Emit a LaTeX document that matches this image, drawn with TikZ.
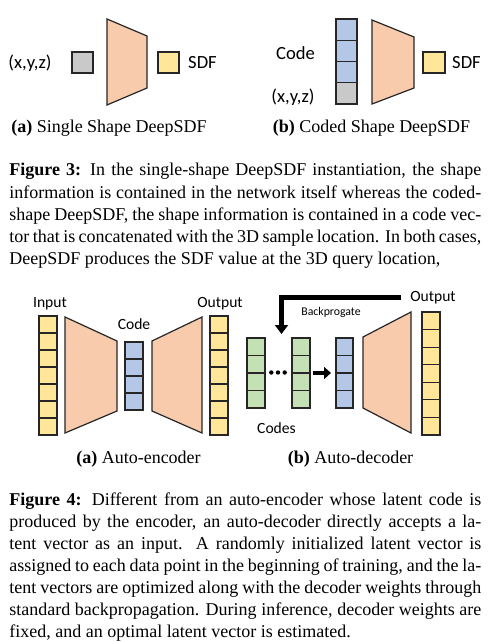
\documentclass[tikz,border=0pt]{standalone}
\usepackage{fontspec}
\setmainfont{Liberation Serif}
\newfontfamily\labfont{Carlito}
\usetikzlibrary{arrows.meta,calc}
\definecolor{peach}{HTML}{F8CBAD}
\definecolor{yel}{HTML}{FFE699}
\definecolor{blu}{HTML}{B4C7E7}
\definecolor{grn}{HTML}{C5E0B4}
\definecolor{gry}{HTML}{C9C9C9}
\definecolor{edge}{HTML}{262626}
\tikzset{
  cellline/.style={draw=edge, line width=0.6pt},
  colnode/.style={cellline, inner sep=0pt, outer sep=0pt},
  trap/.style={cellline, fill=peach, line join=miter},
  labbig/.style={inner sep=0pt, font=\labfont\fontsize{9.3}{11}\selectfont},
  labmid/.style={inner sep=0pt, font=\labfont\fontsize{7.8}{9}\selectfont},
  labsmall/.style={inner sep=0pt, font=\labfont\fontsize{5.9}{7}\selectfont},
  subcap/.style={inner sep=0pt, font=\fontsize{9}{11}\selectfont},
  figcap/.style={inner sep=0pt, anchor=base west, text width=236pt, align=justify, font=\fontsize{9}{11}\selectfont},
  bigarrow/.style={draw=black, line width=2.5pt, -{Triangle[width=6.5pt,length=4.5pt]}},
  smallarrow/.style={draw=black, line width=2pt, -{Triangle[width=6pt,length=3.5pt]}}
}
\newcommand\splitcol[2]{%
  \pgfmathtruncatemacro\mynn{#2-1}%
  \foreach \k in {1,...,\mynn}{%
    \draw[cellline] ($(#1.north west)!\k/#2!(#1.south west)$) -- ($(#1.north east)!\k/#2!(#1.south east)$);}%
}
\begin{document}
\begin{tikzpicture}[x=0.5pt,y=-0.5pt]
\useasboundingbox (0,0) rectangle (488,642);
\fill[white] (0,0) rectangle (488,642);

% ---------- Figure 3 (a)
\node[labbig] (xyzA) at (30,63) {(x,y,z)};
\node[colnode, fill=gry, minimum width=10.5pt, minimum height=10.5pt] (inA) at (82.5,62.5) {};
\draw[trap] (107,19) -- (147,36) -- (147,88) -- (107,105) -- cycle;
\node[colnode, fill=yel, minimum width=10.5pt, minimum height=10.5pt] (outA) at (168.5,62.5) {};
\node[labbig] (sdfA) at (202.5,63) {SDF};
\node[subcap] (capA) at (109,128) {\textbf{(a)} Single Shape DeepSDF};

% ---------- Figure 3 (b)
\node[labbig] (codeB) at (295.5,53) {Code};
\node[labbig] (xyzB) at (293,97) {(x,y,z)};
\node[colnode, fill=blu, minimum width=10.5pt, minimum height=42.5pt] (colB) at (346.5,61.5) {};
\fill[gry] ($(colB.south west)!0.25!(colB.north west)$) rectangle (colB.south east);
\draw[cellline] (colB.north west) rectangle (colB.south east);
\splitcol{colB}{4}
\draw[trap] (372,20) -- (414,37) -- (414,88) -- (372,104) -- cycle;
\node[colnode, fill=yel, minimum width=11pt, minimum height=10.5pt] (outB) at (434,62.5) {};
\node[labbig] (sdfB) at (466.5,63) {SDF};
\node[subcap] (capB) at (371.5,128) {\textbf{(b)} Coded Shape DeepSDF};

% ---------- Figure 3 caption
\node[figcap] (fig3) at (9,176) {{\bfseries Figure 3:} In the single-shape DeepSDF instantiation, the shape\linebreak
information is contained in the network itself whereas the coded-\linebreak
shape DeepSDF, the shape information is contained in a code vec-\linebreak
tor that is concatenated with the 3D sample location. In both cases,\linebreak
DeepSDF produces the SDF value at the 3D query location,};

% ---------- Figure 4 (a) auto-encoder
\node[labmid] (inlab) at (50,304) {Input};
\node[colnode, fill=yel, minimum width=9pt, minimum height=59.5pt] (incol) at (48,375.5) {};
\splitcol{incol}{7}
\draw[trap] (65,317) -- (117,341) -- (117,411) -- (65,433) -- cycle;
\node[labmid] (codelab) at (134,324) {Code};
\node[colnode, fill=blu, minimum width=9pt, minimum height=34pt] (codecol) at (134,376) {};
\splitcol{codecol}{4}
\draw[trap] (152,341) -- (202,317) -- (202,433) -- (152,411) -- cycle;
\node[labmid] (outlab) at (220,304) {Output};
\node[colnode, fill=yel, minimum width=9pt, minimum height=59.5pt] (outcol) at (219,375.5) {};
\splitcol{outcol}{7}
\node[subcap] (capC) at (138.5,459) {\textbf{(a)} Auto-encoder};

% ---------- Figure 4 (b) auto-decoder
\node[labmid] (outlabD) at (433,298) {Output};
\node[labsmall] (bplab) at (331,312) {Backprogate};
\node[colnode, fill=grn, minimum width=9pt, minimum height=35pt] (g1) at (256,373) {};
\splitcol{g1}{4}
\node[colnode, fill=grn, minimum width=9pt, minimum height=35pt] (g2) at (301,373) {};
\splitcol{g2}{4}
\fill[black] (271.3,372.5) circle[radius=1.1pt] (278,372.5) circle[radius=1.1pt] (284.7,372.5) circle[radius=1.1pt];
\node[colnode, fill=blu, minimum width=8.5pt, minimum height=35pt] (bcol) at (344.5,373) {};
\splitcol{bcol}{4}
\draw[trap] (363,337) -- (411,312) -- (411,433) -- (363,408) -- cycle;
\node[colnode, fill=yel, minimum width=9pt, minimum height=61.5pt] (outcolD) at (431,373.5) {};
\splitcol{outcolD}{7}
\node[labmid] (codeslab) at (276.5,428) {Codes};
\coordinate (bpstart) at (401,297.5);
\coordinate (bpend) at (281.5,334);
\draw[bigarrow] (bpstart) -| (bpend);
\draw[smallarrow, shorten <=1.5pt, shorten >=2.5pt] (g2.east) -- (bcol.west);
\node[subcap] (capD) at (350.5,459) {\textbf{(b)} Auto-decoder};

% ---------- Figure 4 caption
\node[figcap] (fig4) at (9,505) {{\bfseries Figure 4:} Different from an auto-encoder whose latent code is\linebreak
produced by the encoder, an auto-decoder directly accepts a la-\linebreak
tent vector as an input. A randomly initialized latent vector is\linebreak
assigned to each data point in the beginning of training, and the la-\linebreak
tent vectors are optimized along with the decoder weights through\linebreak
standard backpropagation. During inference, decoder weights are\linebreak
fixed, and an optimal latent vector is estimated.};
\end{tikzpicture}
\end{document}
